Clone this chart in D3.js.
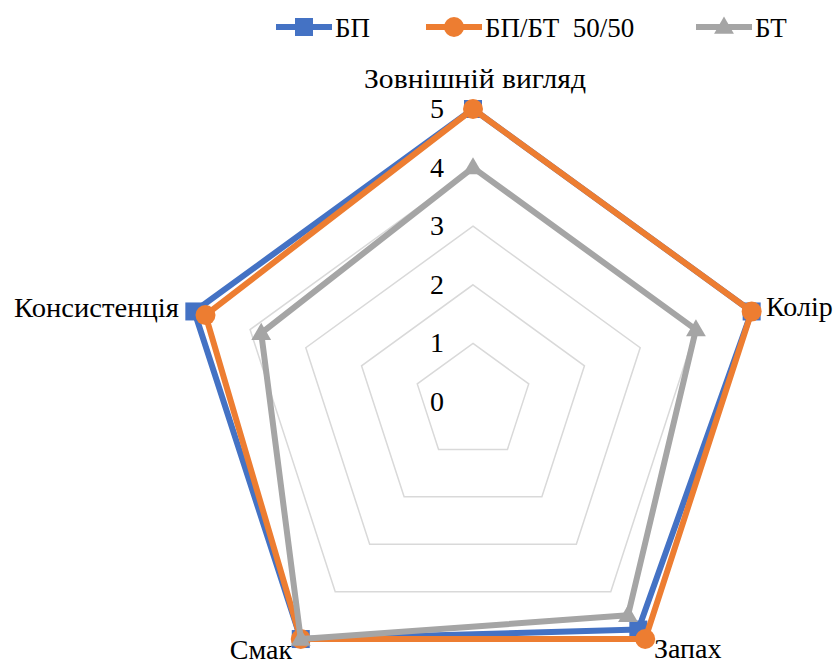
<!DOCTYPE html>
<html><head><meta charset="utf-8">
<script src="https://cdn.jsdelivr.net/npm/d3@7"></script>
<style>
html,body{margin:0;padding:0;background:#fff;}
svg{display:block;}
</style></head>
<body>
<svg id="chart" width="839" height="660"></svg>
<script>
const categories = ["Зовнішній вигляд", "Колір", "Запах", "Смак", "Консистенція"];
const seriesNames = ["БП", "БП/БТ  50/50", "БТ"];
const valuesBP = [5, 5, 4.8, 5, 5];
const valuesMix = [5, 5, 5, 5, 4.8];
const valuesBT = [4, 4, 4.5, 5, 3.8];
const tickValues = [0, 1, 2, 3, 4, 5];
const colors = ["#4472C4", "#ED7D31", "#A5A5A5"];
const markers = ["square", "circle", "triangle"];
const FONT = "Liberation Serif";
const FS = 27;

const svg = d3.select("#chart");
const cx = 473, cy = 402, R = 293;
const r = d3.scaleLinear().domain([0, 5]).range([0, R]);
const ang = d3.scalePoint().domain(categories).range([0, 2 * Math.PI * 4 / 5]);
function pt(cat, v) {
  const a = ang(cat);
  return [cx + r(v) * Math.sin(a), cy - r(v) * Math.cos(a)];
}

// grid
const grid = svg.append("g");
tickValues.filter(t => t > 0).forEach(t => {
  grid.append("polygon")
    .attr("points", categories.map(c => pt(c, t).join(",")).join(" "))
    .attr("fill", "none").attr("stroke", "#d9d9d9").attr("stroke-width", 1.5);
});

// tick labels
svg.append("g").selectAll("text").data(tickValues).join("text")
  .attr("x", cx - 29).attr("y", d => cy - r(d) + 9)
  .attr("text-anchor", "end")
  .attr("font-family", FONT)
  .attr("font-size", 28).attr("fill", "#000").text(d => d);

// series
const allSeries = [valuesBP, valuesMix, valuesBT];
const line = d3.line().curve(d3.curveLinearClosed);
function drawMarker(g, type, x, y, color) {
  if (type === "square") {
    g.append("rect").attr("x", x - 9).attr("y", y - 9).attr("width", 18).attr("height", 18).attr("fill", color);
  } else if (type === "circle") {
    g.append("circle").attr("cx", x).attr("cy", y).attr("r", 10).attr("fill", color);
  } else {
    g.append("path").attr("d", d3.symbol(d3.symbolTriangle, 170)()).attr("transform", `translate(${x},${y + 1})`).attr("fill", color);
  }
}
allSeries.forEach((vals, i) => {
  const g = svg.append("g");
  const pts = categories.map((c, j) => pt(c, vals[j]));
  g.append("path").attr("d", line(pts)).attr("fill", "none")
    .attr("stroke", colors[i]).attr("stroke-width", 6).attr("stroke-linejoin", "round");
  pts.forEach(p => drawMarker(g, markers[i], p[0], p[1], colors[i]));
});

// axis labels
const labelPos = [
  {x: 475, y: 88, anchor: "middle", len: 222},
  {x: 766, y: 316, anchor: "start"},
  {x: 654, y: 658, anchor: "start"},
  {x: 292, y: 659, anchor: "end"},
  {x: 179, y: 317, anchor: "end", len: 165}
];
categories.forEach((c, i) => {
  const t = svg.append("text").attr("x", labelPos[i].x).attr("y", labelPos[i].y)
    .attr("text-anchor", labelPos[i].anchor)
    .attr("font-family", FONT)
    .attr("font-size", 28).attr("fill", "#000").text(c);
  if (labelPos[i].len) t.attr("textLength", labelPos[i].len).attr("lengthAdjust", "spacingAndGlyphs");
});

// legend
const legX = [276, 426, 696];
seriesNames.forEach((n, i) => {
  const g = svg.append("g");
  g.append("line").attr("x1", legX[i]).attr("x2", legX[i] + 56).attr("y1", 27).attr("y2", 27)
    .attr("stroke", colors[i]).attr("stroke-width", 6);
  drawMarker(g, markers[i], legX[i] + 28, 27, colors[i]);
  g.append("text").attr("x", legX[i] + 59).attr("y", 37)
    .attr("font-family", FONT)
    .attr("font-size", FS).attr("fill", "#000").style("white-space", "pre").text(n);
});
</script>
</body></html>
